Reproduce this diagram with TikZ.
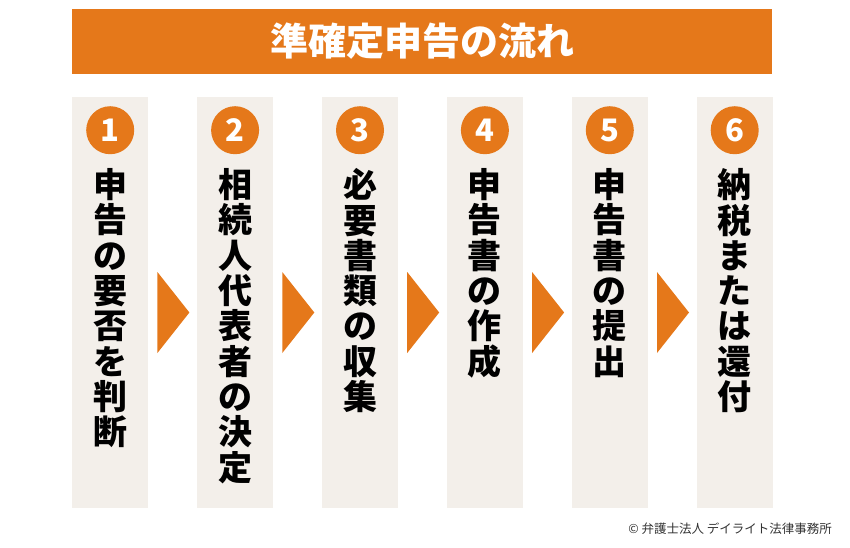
\documentclass[tikz,border=0pt]{standalone}
\usepackage{fontspec}
\setmainfont{Noto Sans CJK JP}
\usetikzlibrary{positioning,calc}
\definecolor{flowOrange}{RGB}{229,120,26}
\definecolor{panelBeige}{RGB}{243,239,234}
\definecolor{noteGray}{RGB}{51,51,51}

\begin{document}
\begin{tikzpicture}[x=1pt, y=-1pt]
    \tikzstyle{headbar} = [rectangle, fill=flowOrange, minimum width=700pt, minimum height=65pt, inner sep=0pt, text=white, font=\fontsize{38pt}{40pt}\selectfont\bfseries]
    \tikzstyle{panel} = [rectangle, fill=panelBeige, minimum width=76pt, minimum height=411pt, inner sep=0pt, anchor=north west]
    \tikzstyle{badge} = [circle, fill=flowOrange, minimum size=48pt, inner sep=0pt, text=white, font=\fontsize{31pt}{31pt}\selectfont\bfseries]
    \tikzstyle{steptext} = [align=center, inner sep=0pt, font=\fontsize{34pt}{35.3pt}\selectfont\bfseries]
    \tikzstyle{pointer} = [fill=flowOrange]

    \useasboundingbox (0,0) rectangle (850,547);

    % Title bar
    \node [headbar] (head) at (422,41.5) {準確定申告の流れ};

    % Step panels
    \node [panel] (step1) at (72,97) {};
    \node [panel, right=48.5pt of step1] (step2) {};
    \node [panel, right=48.5pt of step2] (step3) {};
    \node [panel, right=48.5pt of step3] (step4) {};
    \node [panel, right=48.5pt of step4] (step5) {};
    \node [panel, right=48.5pt of step5] (step6) {};

    % Numbers
    \node [badge, below=9pt of step1.north] (num1) {1};
    \node [badge, below=9pt of step2.north] (num2) {2};
    \node [badge, below=9pt of step3.north] (num3) {3};
    \node [badge, below=9pt of step4.north] (num4) {4};
    \node [badge, below=9pt of step5.north] (num5) {5};
    \node [badge, below=9pt of step6.north] (num6) {6};

    % Vertical labels
    \node [steptext, below=14pt of num1] (text1) {申\\告\\の\\要\\否\\を\\判\\断};
    \node [steptext, below=14pt of num2] (text2) {相\\続\\人\\代\\表\\者\\の\\決\\定};
    \node [steptext, below=14pt of num3] (text3) {必\\要\\書\\類\\の\\収\\集};
    \node [steptext, below=14pt of num4] (text4) {申\\告\\書\\の\\作\\成};
    \node [steptext, below=14pt of num5] (text5) {申\\告\\書\\の\\提\\出};
    \node [steptext, below=14pt of num6] (text6) {納\\税\\ま\\た\\は\\還\\付};

    % Arrows between panels
    \fill [pointer] ($(step1.north east)+(9,175)$) -- ++(32,40.5) -- ++(-32,40.5) -- cycle;
    \fill [pointer] ($(step2.north east)+(9,175)$) -- ++(32,40.5) -- ++(-32,40.5) -- cycle;
    \fill [pointer] ($(step3.north east)+(9,175)$) -- ++(32,40.5) -- ++(-32,40.5) -- cycle;
    \fill [pointer] ($(step4.north east)+(9,175)$) -- ++(32,40.5) -- ++(-32,40.5) -- cycle;
    \fill [pointer] ($(step5.north east)+(9,175)$) -- ++(32,40.5) -- ++(-32,40.5) -- cycle;

    % Credit
    \node [anchor=east, inner sep=0pt, text=noteGray, font=\fontsize{12.5pt}{14pt}\selectfont] (credit) at (832,529) {© 弁護士法人 デイライト法律事務所};
\end{tikzpicture}
\end{document}
